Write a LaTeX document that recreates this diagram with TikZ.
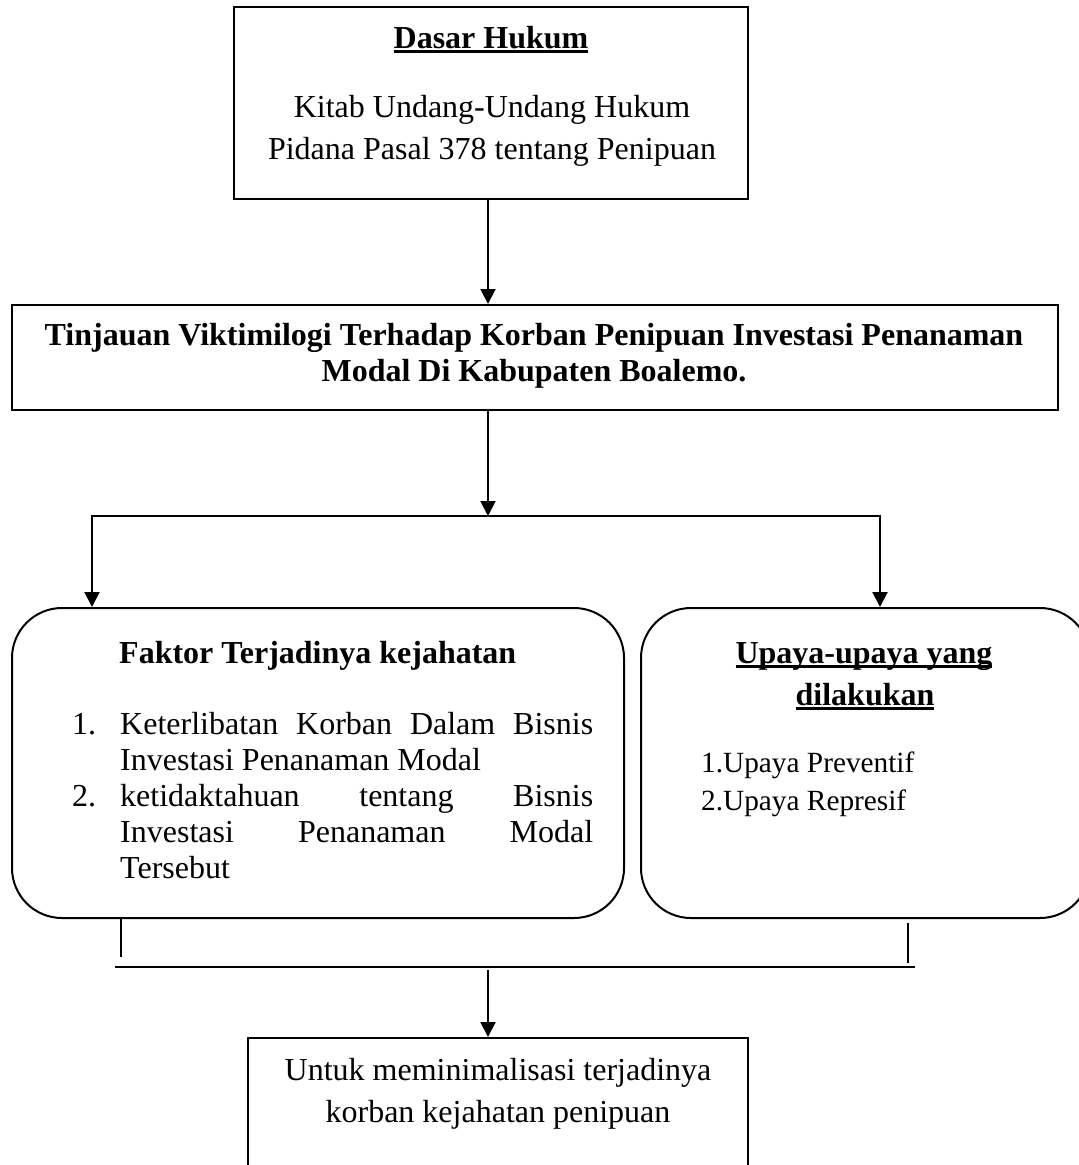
\documentclass[tikz,border=0pt]{standalone}
\usepackage{fontspec}
\setmainfont{Liberation Serif}
\usepackage{tikz}
\usetikzlibrary{arrows.meta, positioning, calc}

\newsavebox{\garisbox}
\newcommand{\garisbawah}[1]{\sbox\garisbox{#1}\rlap{\vrule width \wd\garisbox height -2pt depth 5pt}\usebox\garisbox}

\begin{document}
\begin{tikzpicture}[x=1pt, y=-1pt,
        kotak/.style={draw, line width=2pt, inner sep=0pt},
        bulat/.style={draw, line width=2pt, rounded corners=50pt, inner sep=0pt},
        teks/.style={inner sep=0pt, font=\fontsize{32pt}{36pt}\selectfont},
        kecil/.style={inner sep=0pt, font=\fontsize{29.3pt}{34pt}\selectfont},
        panah/.style={line width=2pt, -{Triangle[length=15pt,width=15pt]}},
        garis/.style={line width=2pt}]

        \useasboundingbox (0,0) rectangle (1079,1165);

        % kotak
        \node[kotak, minimum width=514pt, minimum height=192pt] (dasar) at (491,103) {};
        \node[kotak, minimum width=1046pt, minimum height=105pt] (tinjau) at (535,357.5) {};
        \node[bulat, minimum width=612pt, minimum height=310pt] (faktor) at (318,763) {};
        \node[bulat, minimum width=449pt, minimum height=310pt] (upaya) at (865.5,763) {};
        \node[kotak, minimum width=500pt, minimum height=150pt] (hasil) at (498,1113) {};

        % dasar hukum
        \node[teks, anchor=base] (dasarjudul) at (491,48) {\garisbawah{\textbf{Dasar Hukum}}};
        \node[teks, anchor=base] (kuhp1) at (492,117) {Kitab Undang-Undang Hukum};
        \node[teks, anchor=base] (kuhp2) at (492,159) {Pidana Pasal 378 tentang Penipuan};

        % judul penelitian
        \node[teks, anchor=base] (tinjau1) at (534,345) {\textbf{Tinjauan Viktimilogi Terhadap Korban Penipuan Investasi Penanaman}};
        \node[teks, anchor=base] (tinjau2) at (534,381) {\textbf{Modal Di Kabupaten Boalemo.}};

        % faktor
        \node[teks, anchor=base west] (faktorjudul) at (119,663) {\textbf{Faktor Terjadinya kejahatan}};
        \node[teks, anchor=base west] (no1) at (72,734) {1.};
        \node[teks, anchor=base west] (isi1a) at (120,734) {\makebox[473pt][s]{Keterlibatan Korban Dalam Bisnis}};
        \node[teks, anchor=base west] (isi1b) at (120,770) {Investasi Penanaman Modal};
        \node[teks, anchor=base west] (no2) at (72,806) {2.};
        \node[teks, anchor=base west] (isi2a) at (120,806) {\makebox[473pt][s]{ketidaktahuan tentang Bisnis}};
        \node[teks, anchor=base west] (isi2b) at (120,842) {\makebox[473pt][s]{Investasi Penanaman Modal}};
        \node[teks, anchor=base west] (isi2c) at (120,878) {Tersebut};

        % upaya
        \node[teks, anchor=base] (upayajudul1) at (864,663) {\garisbawah{\textbf{Upaya-upaya yang}}};
        \node[teks, anchor=base] (upayajudul2) at (865,705) {\garisbawah{\textbf{dilakukan}}};
        \node[kecil, anchor=base west] (upaya1) at (701,772) {1.Upaya Preventif};
        \node[kecil, anchor=base west] (upaya2) at (701,810) {2.Upaya Represif};

        % hasil
        \node[teks, anchor=base] (hasil1) at (498,1080) {Untuk meminimalisasi terjadinya};
        \node[teks, anchor=base] (hasil2) at (498,1122) {korban kejahatan penipuan};

        % panah
        \coordinate (pusat) at (488,0);
        \coordinate (cabang) at (488,516);
        \coordinate (cabangkiri) at (92,516);
        \coordinate (cabangkanan) at (880,516);
        \draw[panah] (dasar.south -| pusat) -- (tinjau.north -| pusat);
        \draw[panah] (tinjau.south -| pusat) -- (cabang);
        \draw[panah] (cabang) -- (cabangkiri) -- (faktor.north -| cabangkiri);
        \draw[panah] (cabang) -- (cabangkanan) -- (upaya.north -| cabangkanan);

        % kurung bawah
        \coordinate (kurungkiri) at (121,957);
        \coordinate (kurungkananatas) at (908,923);
        \coordinate (kurungkanan) at (908,963);
        \coordinate (alaskiri) at (115,967);
        \coordinate (alaskanan) at (915,967);
        \coordinate (turun) at (488,970);
        \draw[line width=1.5pt] (faktor.south -| kurungkiri) -- (kurungkiri);
        \draw[line width=1.5pt] (kurungkananatas) -- (kurungkanan);
        \draw[garis] (alaskiri) -- (alaskanan);
        \draw[panah] (turun) -- (hasil.north -| turun);

\end{tikzpicture}
\end{document}
